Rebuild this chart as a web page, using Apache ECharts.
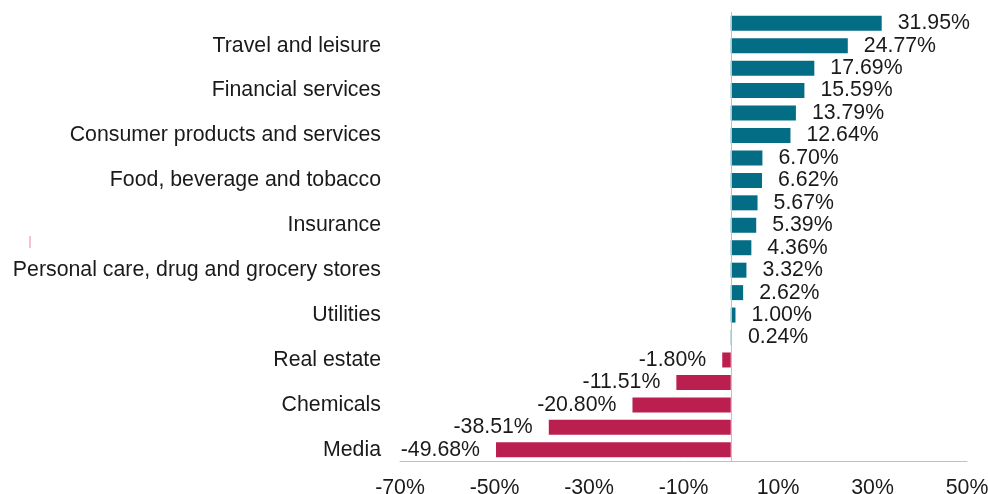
<!DOCTYPE html>
<html>
<head>
<meta charset="utf-8">
<style>
  html, body { margin: 0; padding: 0; background: #ffffff; }
  #chart { width: 988px; height: 494px; }
</style>
<script src="https://cdn.jsdelivr.net/npm/echarts@6/dist/echarts.min.js"></script>
</head>
<body>
<div id="chart"></div>
<script>
// Sector labels (every second row carries a name), top to bottom
const categories = [
  '', 'Travel and leisure',
  '', 'Financial services',
  '', 'Consumer products and services',
  '', 'Food, beverage and tobacco',
  '', 'Insurance',
  '', 'Personal care, drug and grocery stores',
  '', 'Utilities',
  '', 'Real estate',
  '', 'Chemicals',
  '', 'Media'
];

// Percentage change per sector, same order as categories
const values = [
  31.95, 24.77, 17.69, 15.59, 13.79, 12.64, 6.70, 6.62, 5.67, 5.39,
  4.36, 3.32, 2.62, 1.00, 0.24, -1.80, -11.51, -20.80, -38.51, -49.68
];

// Value axis range and step
const axisMin = -70;
const axisMax = 50;
const axisStep = 20;

const POS_COLOR = '#036d86';
const NEG_COLOR = '#bb1f4f';
const FONT = 'Liberation Sans, Arial, sans-serif';
const FONT_SIZE = 21.3;

const chart = echarts.init(document.getElementById('chart'), null, { renderer: 'canvas' });

chart.setOption({
  animation: false,
  backgroundColor: '#ffffff',
  grid: {
    left: 400, right: 21, top: 12, bottom: 33,
    containLabel: false,
    outerBoundsMode: 'none'
  },
  xAxis: {
    type: 'value',
    min: axisMin,
    max: axisMax,
    interval: axisStep,
    splitLine: { show: false },
    axisTick: { show: false },
    axisLine: { show: true, onZero: false, lineStyle: { color: '#c0c0c0', width: 1 } },
    axisLabel: {
      formatter: v => v + '%',
      color: '#1a1a1a',
      fontFamily: FONT,
      fontSize: FONT_SIZE,
      margin: 17
    }
  },
  yAxis: {
    type: 'category',
    inverse: true,
    data: categories,
    axisLine: { show: false },
    axisTick: { show: false },
    splitLine: { show: false },
    axisLabel: {
      interval: 0,
      color: '#1a1a1a',
      fontFamily: FONT,
      fontSize: FONT_SIZE,
      margin: 19
    }
  },
  graphic: [
    {
      type: 'rect',
      left: 29,
      top: 236,
      shape: { width: 2, height: 12 },
      style: { fill: '#f6c3cc' },
      silent: true
    }
  ],
  series: [
    {
      type: 'bar',
      data: values.map(v => ({
        value: v,
        itemStyle: { color: v >= 0 ? POS_COLOR : NEG_COLOR },
        label: { position: v >= 0 ? 'right' : 'left' }
      })),
      barWidth: 15,
      label: {
        show: true,
        distance: 16,
        formatter: p => p.value.toFixed(2) + '%',
        color: '#1a1a1a',
        fontFamily: FONT,
        fontSize: FONT_SIZE
      },
      markLine: {
        silent: true,
        symbol: 'none',
        label: { show: false },
        lineStyle: { color: '#c0c0c0', width: 1, type: 'solid' },
        data: [{ xAxis: 0 }]
      }
    }
  ]
});
</script>
</body>
</html>
